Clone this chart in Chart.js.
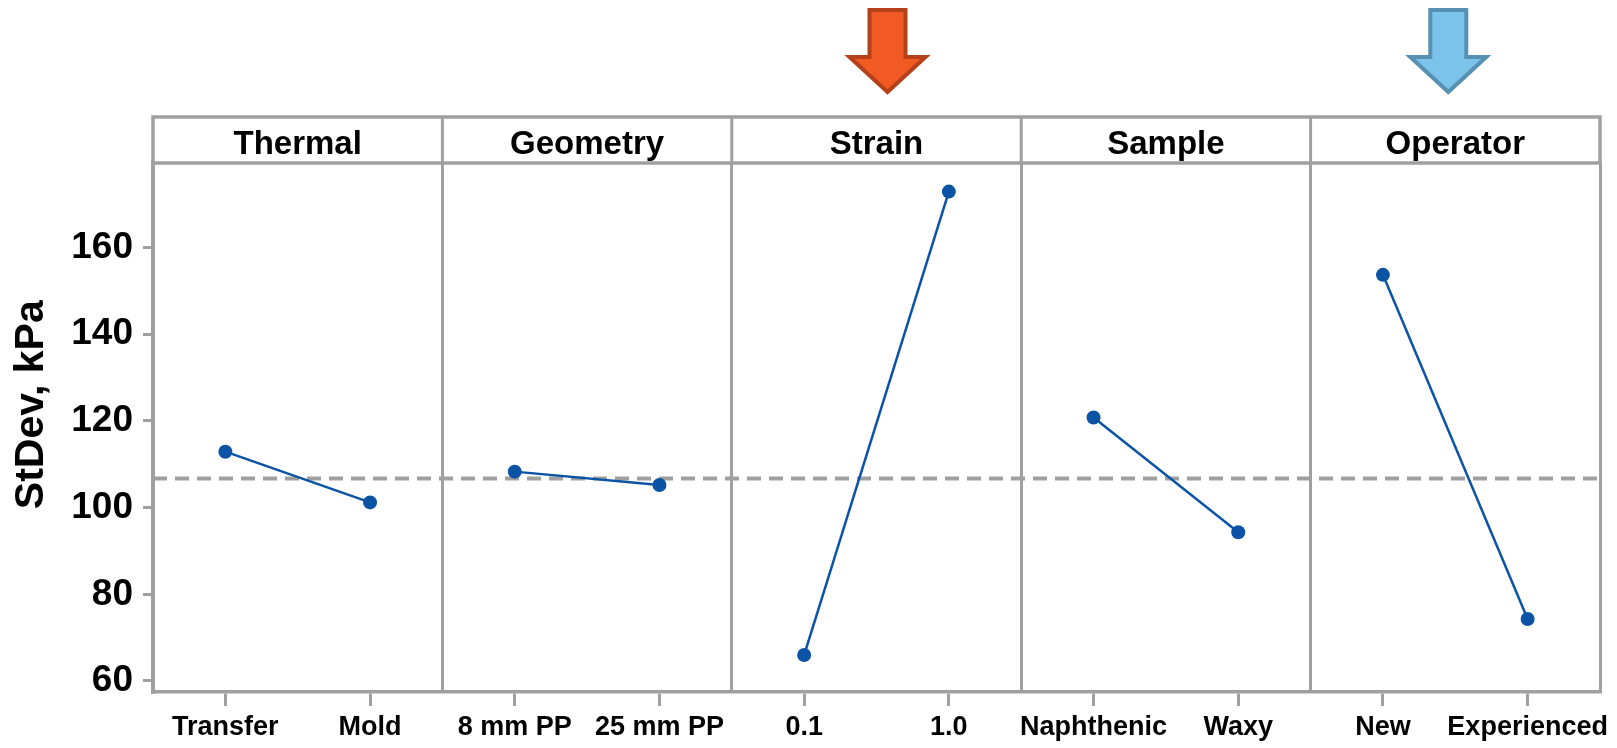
<!DOCTYPE html>
<html>
<head>
<meta charset="utf-8">
<title>Main effects for StDev</title>
<script src="https://cdn.jsdelivr.net/npm/chart.js@4.4.1/dist/chart.umd.min.js"></script>
<style>
  html, body { margin: 0; padding: 0; background: #fff; }
  #wrap { width: 1617px; height: 748px; position: relative; }
</style>
</head>
<body>
<div id="wrap"><canvas id="effects"></canvas></div>
<script>
  // factors, their two levels and the StDev at each level (kPa)
  const factors = ["Thermal", "Geometry", "Strain", "Sample", "Operator"];
  const lowLevels = ["Transfer", "8 mm PP", "0.1", "Naphthenic", "New"];
  const highLevels = ["Mold", "25 mm PP", "1.0", "Waxy", "Experienced"];
  const lowStDev = [112.9, 108.3, 66.0, 120.8, 153.7];
  const highStDev = [101.2, 105.2, 172.9, 94.3, 74.3];
  const meanStDev = 106.7;
  const yTicks = [60, 80, 100, 120, 140, 160];

  const FONT = '"Liberation Sans Narrow", "Arial Narrow", "Liberation Sans", Arial, sans-serif';
  const GRAY = "#a0a0a0";
  const BLUE = "#0b53a5";

  // each factor gets one unit on x; its levels sit at a quarter and three quarters
  const levelPos = [];
  const levelName = {};
  factors.forEach((f, i) => {
    levelPos.push(i + 0.25, i + 0.75);
    levelName[i + 0.25] = lowLevels[i];
    levelName[i + 0.75] = highLevels[i];
  });

  const datasets = factors.map((f, i) => ({
    label: f,
    data: [
      { x: i + 0.25, y: lowStDev[i] },
      { x: i + 0.75, y: highStDev[i] }
    ],
    borderColor: BLUE,
    backgroundColor: BLUE,
    borderWidth: 2.5,
    pointRadius: 7,
    pointHoverRadius: 7,
    pointBorderWidth: 0,
    order: 0
  }));

  datasets.push({
    label: "Mean",
    data: [
      { x: 0, y: meanStDev },
      { x: factors.length, y: meanStDev }
    ],
    borderColor: GRAY,
    borderWidth: 4,
    borderDash: [14, 8],
    pointRadius: 0,
    order: 1
  });

  // panel strip on top plus the two highlight arrows
  const highlights = [
    { factor: 2, shift: 11, fill: "#f15a22", stroke: "#b5411b" },
    { factor: 4, shift: -7, fill: "#7cc3ec", stroke: "#5690b2" }
  ];

  function drawArrow(ctx, cx, a) {
    const top = 10, neck = 57, tip = 92, half = 38, shaft = 18;
    ctx.beginPath();
    ctx.moveTo(cx - shaft, top);
    ctx.lineTo(cx + shaft, top);
    ctx.lineTo(cx + shaft, neck);
    ctx.lineTo(cx + half, neck);
    ctx.lineTo(cx, tip);
    ctx.lineTo(cx - half, neck);
    ctx.lineTo(cx - shaft, neck);
    ctx.closePath();
    ctx.fillStyle = a.fill;
    ctx.fill();
    ctx.lineWidth = 4;
    ctx.lineJoin = "miter";
    ctx.strokeStyle = a.stroke;
    ctx.stroke();
  }

  const panelStrip = {
    id: "panelStrip",
    afterDraw(chart) {
      const { ctx, chartArea } = chart;
      const x = chart.scales.x;
      const stripH = 46;
      const top = chartArea.top - stripH;
      ctx.save();
      ctx.strokeStyle = GRAY;
      ctx.lineWidth = 3.5;
      ctx.strokeRect(chartArea.left, top, chartArea.right - chartArea.left, stripH);
      ctx.lineWidth = 3;
      for (let i = 1; i < factors.length; i++) {
        const px = x.getPixelForValue(i);
        ctx.beginPath();
        ctx.moveTo(px, top);
        ctx.lineTo(px, chartArea.top);
        ctx.stroke();
      }
      ctx.fillStyle = "#000";
      ctx.font = "bold 33px " + FONT;
      ctx.textAlign = "center";
      ctx.textBaseline = "alphabetic";
      factors.forEach((f, i) => {
        ctx.fillText(f, x.getPixelForValue(i + 0.5), top + 37);
      });
      highlights.forEach((a) => {
        drawArrow(ctx, x.getPixelForValue(a.factor + 0.5) + a.shift, a);
      });
      ctx.restore();
    }
  };

  new Chart(document.getElementById("effects"), {
    type: "line",
    data: { datasets },
    plugins: [panelStrip],
    options: {
      responsive: true,
      maintainAspectRatio: false,
      animation: false,
      layout: { padding: { top: 163, right: 17, bottom: 0, left: 0 } },
      plugins: {
        legend: { display: false },
        tooltip: { enabled: false }
      },
      scales: {
        x: {
          type: "linear",
          min: 0,
          max: factors.length,
          afterBuildTicks: (s) => { s.ticks = levelPos.map((v) => ({ value: v })); },
          afterFit: (s) => { s.height = 56; },
          ticks: {
            autoSkip: false,
            maxRotation: 0,
            padding: 5,
            color: "#000",
            font: { family: FONT, size: 27, weight: "bold" },
            callback: (v) => levelName[v] ?? ""
          },
          grid: { drawOnChartArea: false, color: GRAY, lineWidth: 3, tickLength: 14 },
          border: { color: GRAY, width: 3.5 }
        },
        panels: {
          type: "linear",
          position: "top",
          min: 0,
          max: factors.length,
          afterBuildTicks: (s) => {
            s.ticks = factors.map((f, i) => ({ value: i })).concat([{ value: factors.length }]);
          },
          ticks: { display: false },
          grid: { drawTicks: false, color: GRAY, lineWidth: 3 },
          border: { display: false }
        },
        y: {
          min: 57.46,
          max: 179.5,
          afterBuildTicks: (s) => { s.ticks = yTicks.map((v) => ({ value: v })); },
          afterFit: (s) => { s.width = 153; },
          ticks: {
            padding: 10,
            color: "#000",
            font: { family: FONT, size: 37, weight: "bold" }
          },
          grid: { drawOnChartArea: false, color: GRAY, lineWidth: 3, tickLength: 10 },
          border: { color: GRAY, width: 3.5 },
          title: {
            display: true,
            // leading spaces lift the centred title a little above the axis middle
            text: "    StDev, kPa",
            color: "#000",
            padding: { top: 7, bottom: 0 },
            font: { family: FONT, size: 41, weight: "bold" }
          }
        }
      }
    }
  });
</script>
</body>
</html>
